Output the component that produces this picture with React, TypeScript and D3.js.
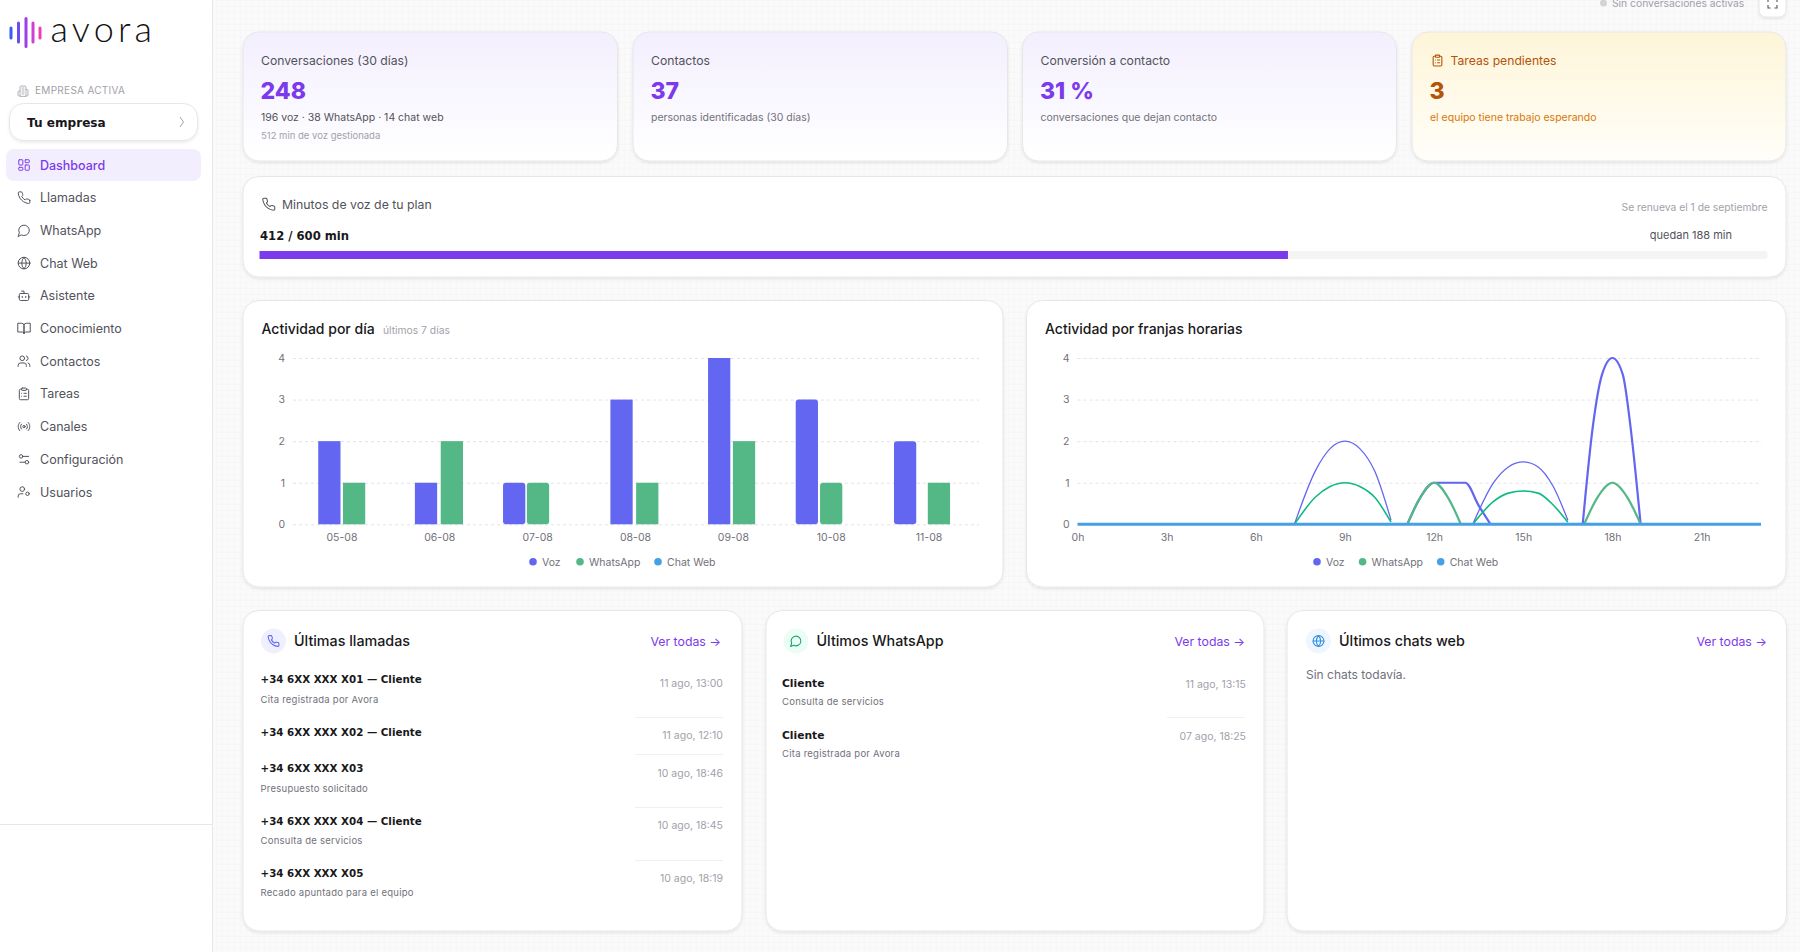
import { useEffect, useRef } from "react";
import * as d3 from "d3";

// ── Data ─────────────────────────────────────────────────────────────────────

const dayLabels = ["05-08", "06-08", "07-08", "08-08", "09-08", "10-08", "11-08"];
const dayVoz = [2, 1, 1, 3, 4, 3, 2];
const dayWhatsApp = [1, 2, 1, 1, 2, 1, 1];
const dayChat = [0, 0, 0, 0, 0, 0, 0];

const hourTicks = [0, 3, 6, 9, 12, 15, 18, 21];
const yTicks = [0, 1, 2, 3, 4];

// franjas horarias: each arch is [hour, value]
const vozArches: [number, number][][] = [
  [[7.3, 0], [8, 1.28], [8.5, 1.82], [9, 2], [9.5, 1.82], [10, 1.28], [10.55, 0.1]],
  [[11.1, 0], [11.5, 0.6], [12, 1], [12.5, 1], [13.05, 1], [13.5, 0.45], [13.9, 0]],
  [[13.3, 0], [14, 1], [14.5, 1.38], [15, 1.5], [15.5, 1.38], [16, 0.92], [16.5, 0.1]],
  [[17, 0], [17.35, 2.4], [17.65, 3.6], [18, 4], [18.35, 3.6], [18.6, 2.4], [18.95, 0]],
];
const whatsAppArches: [number, number][][] = [
  [[7.3, 0], [8, 0.65], [8.5, 0.91], [9, 1], [9.5, 0.91], [10, 0.65], [10.55, 0.05]],
  [[11.1, 0], [11.5, 0.6], [12, 1], [12.5, 0.6], [12.9, 0]],
  [[13.3, 0], [14, 0.55], [14.5, 0.75], [15, 0.8], [15.5, 0.75], [16, 0.47], [16.5, 0.05]],
  [[17.05, 0], [17.5, 0.65], [18, 1], [18.5, 0.65], [18.95, 0]],
];
const chatLine: [number, number][] = [[0, 0], [23, 0]];

const legendNames = ["Voz", "WhatsApp", "Chat Web"];

const navLabels = ["Dashboard", "Llamadas", "WhatsApp", "Chat Web", "Asistente", "Conocimiento", "Contactos", "Tareas", "Canales", "Configuración", "Usuarios"];
const navIcons = ["dash", "phone", "msg", "globe", "bot", "book", "users", "clip", "radio", "sliders", "usercog"];

const planUsed = 412;
const planTotal = 600;
const planBarShare = 0.682;

const callNames = ["+34 6XX XXX X01 — Cliente", "+34 6XX XXX X02 — Cliente", "+34 6XX XXX X03", "+34 6XX XXX X04 — Cliente", "+34 6XX XXX X05"];
const callNotes = ["Cita registrada por Avora", "", "Presupuesto solicitado", "Consulta de servicios", "Recado apuntado para el equipo"];
const callTimes = ["11 ago, 13:00", "11 ago, 12:10", "10 ago, 18:46", "10 ago, 18:45", "10 ago, 18:19"];

const waNames = ["Cliente", "Cliente"];
const waNotes = ["Consulta de servicios", "Cita registrada por Avora"];
const waTimes = ["11 ago, 13:15", "07 ago, 18:25"];

// ── Styling ──────────────────────────────────────────────────────────────────

const INTER = "Inter, sans-serif";
const DEJAVU = "'DejaVu Sans', sans-serif";
const VIOLET = "#7c3aed";
const VOZ = "#6366f1";
const WA_BAR = "#53b786";
const WA_LINE = "#10b981";
const CHAT = "#46a0e6";
const INK = "#18181b";
const MUTED = "#52525b";
const FAINT = "#a1a1aa";

// bars in the reference sit a little off their band centre on some days (px)
const vozNudge = [-0.2, -1.4, -11.1, -1.6, -1.8, -12, -11.6];
const waNudge = [-0.2, -0.3, -12, -0.6, -1.7, -12.4, -2.5];
const vozCorner = [0, 0, 3, 0, 0, 3, 3];
const waCorner = [0, 0, 3, 0, 0, 3, 0];
// the narrow arches come out heavier than the wide ones
const vozArchWidth = [1.3, 2.2, 1.3, 2.2];
const waArchWidth = [1.6, 2.2, 1.6, 2.2];

const ICONS: Record<string, string[]> = {
  dash: ["M4 3h5a1 1 0 0 1 1 1v7a1 1 0 0 1-1 1H4a1 1 0 0 1-1-1V4a1 1 0 0 1 1-1z", "M15 3h5a1 1 0 0 1 1 1v3a1 1 0 0 1-1 1h-5a1 1 0 0 1-1-1V4a1 1 0 0 1 1-1z", "M15 12h5a1 1 0 0 1 1 1v7a1 1 0 0 1-1 1h-5a1 1 0 0 1-1-1v-7a1 1 0 0 1 1-1z", "M4 16h5a1 1 0 0 1 1 1v3a1 1 0 0 1-1 1H4a1 1 0 0 1-1-1v-3a1 1 0 0 1 1-1z"],
  phone: ["M22 16.92v3a2 2 0 0 1-2.18 2 19.79 19.79 0 0 1-8.63-3.07 19.5 19.5 0 0 1-6-6 19.79 19.79 0 0 1-3.07-8.67A2 2 0 0 1 4.11 2h3a2 2 0 0 1 2 1.72 12.84 12.84 0 0 0 .7 2.81 2 2 0 0 1-.45 2.11L8.09 9.91a16 16 0 0 0 6 6l1.27-1.27a2 2 0 0 1 2.11-.45 12.84 12.84 0 0 0 2.81.7A2 2 0 0 1 22 16.92z"],
  msg: ["M7.9 20A9 9 0 1 0 4 16.1L2 22Z"],
  globe: ["M22 12a10 10 0 1 1-20 0 10 10 0 0 1 20 0z", "M12 2a14.5 14.5 0 0 0 0 20 14.5 14.5 0 0 0 0-20", "M2 12h20"],
  bot: ["M12 8V4H8", "M6 8h12a2 2 0 0 1 2 2v8a2 2 0 0 1-2 2H6a2 2 0 0 1-2-2v-8a2 2 0 0 1 2-2z", "M2 14h2", "M20 14h2", "M15 13v2", "M9 13v2"],
  book: ["M2 3h6a4 4 0 0 1 4 4v14a3 3 0 0 0-3-3H2z", "M22 3h-6a4 4 0 0 0-4 4v14a3 3 0 0 1 3-3h7z"],
  users: ["M16 21v-2a4 4 0 0 0-4-4H6a4 4 0 0 0-4 4v2", "M13 7a4 4 0 1 1-8 0 4 4 0 0 1 8 0z", "M22 21v-2a4 4 0 0 0-3-3.87", "M16 3.13a4 4 0 0 1 0 7.75"],
  clip: ["M9 2h6a1 1 0 0 1 1 1v2a1 1 0 0 1-1 1H9a1 1 0 0 1-1-1V3a1 1 0 0 1 1-1z", "M16 4h2a2 2 0 0 1 2 2v14a2 2 0 0 1-2 2H6a2 2 0 0 1-2-2V6a2 2 0 0 1 2-2h2", "M12 11h4", "M12 16h4", "M8 11h.01", "M8 16h.01"],
  radio: ["M4.9 19.1C1 15.2 1 8.8 4.9 4.9", "M7.8 16.2c-2.3-2.3-2.3-6.1 0-8.5", "M14 12a2 2 0 1 1-4 0 2 2 0 0 1 4 0z", "M16.2 7.8c2.3 2.3 2.3 6.1 0 8.5", "M19.1 4.9C23 8.8 23 15.1 19.1 19"],
  sliders: ["M20 7h-9", "M14 17H5", "M20 17a3 3 0 1 1-6 0 3 3 0 0 1 6 0z", "M10 7a3 3 0 1 1-6 0 3 3 0 0 1 6 0z"],
  usercog: ["M10 15H6a4 4 0 0 0-4 4v2", "M13 7a4 4 0 1 1-8 0 4 4 0 0 1 8 0z", "M21 15a3 3 0 1 1-6 0 3 3 0 0 1 6 0z"],
  building: ["M6 22V4a2 2 0 0 1 2-2h8a2 2 0 0 1 2 2v18z", "M6 12H4a2 2 0 0 0-2 2v6a2 2 0 0 0 2 2h2", "M18 9h2a2 2 0 0 1 2 2v9a2 2 0 0 1-2 2h-2", "M10 6h4", "M10 10h4", "M10 14h4", "M10 18h4"],
};

function Icon({ name, x, y, size = 14, color = MUTED, sw = 2 }: { name: string; x: number; y: number; size?: number; color?: string; sw?: number }) {
  return (
    <g transform={`translate(${x},${y}) scale(${size / 24})`} fill="none" stroke={color} strokeWidth={sw} strokeLinecap="round" strokeLinejoin="round">
      {ICONS[name].map((d, i) => <path key={i} d={d} />)}
    </g>
  );
}

function T({ x, y, size, color = INK, weight = 400, font = INTER, anchor = "start", spacing, children }: any) {
  return (
    <text x={x} y={y} fontSize={size} fill={color} fontWeight={weight} fontFamily={font} textAnchor={anchor} letterSpacing={spacing}>
      {children}
    </text>
  );
}

function Card({ x, y, x2, y2, fill = "#fff" }: { x: number; y: number; x2: number; y2: number; fill?: string }) {
  return <rect x={x} y={y} width={x2 - x} height={y2 - y} rx={16} fill={fill} stroke="#e7e7ea" strokeWidth={1} filter="url(#cardShadow)" />;
}

// ── Charts ───────────────────────────────────────────────────────────────────

const CHART_TOP = 358;
const CHART_BOTTOM = 524.3;

function styleAxes(g: d3.Selection<SVGGElement, unknown, null, undefined>, left: number, right: number, bottomAxis: d3.Axis<any>) {
  const y = d3.scaleLinear().domain([0, 4]).range([CHART_BOTTOM, CHART_TOP]);

  g.append("g")
    .attr("transform", `translate(${left},0)`)
    .call(d3.axisLeft(y).tickValues(yTicks).tickSize(-(right - left)).tickPadding(8).tickFormat(d3.format("d")))
    .call((ag) => ag.select(".domain").remove())
    .call((ag) => ag.selectAll(".tick line").attr("stroke", "#e4e4e7").attr("stroke-dasharray", "3,3"))
    .call((ag) => ag.selectAll(".tick text").attr("fill", "#71717a").attr("font-size", 10.5).attr("font-family", INTER));

  g.append("g")
    .attr("transform", `translate(0,${CHART_BOTTOM})`)
    .call(bottomAxis.tickSize(0).tickPadding(9))
    .call((ag) => ag.select(".domain").remove())
    .call((ag) => ag.selectAll(".tick text").attr("fill", "#71717a").attr("font-size", 10.5).attr("font-family", INTER));

  return y;
}

function DayChart() {
  const ref = useRef<SVGGElement>(null);
  useEffect(() => {
    if (!ref.current) return;
    const g = d3.select(ref.current);
    g.selectAll("*").remove();

    const x = d3.scaleBand<string>().domain(dayLabels).range([293, 978]);
    const y = styleAxes(g, 293, 979, d3.axisBottom(x));
    const inner = d3.scaleBand<string>().domain(["Voz", "WhatsApp"]).range([-23.5, 23.5]).paddingInner(0.1);

    const series: [string, number[], string, number[], number[]][] = [
      ["Voz", dayVoz, VOZ, vozNudge, vozCorner],
      ["WhatsApp", dayWhatsApp, WA_BAR, waNudge, waCorner],
    ];
    series.forEach(([name, values, color, nudge, corner]) => {
      g.append("g")
        .selectAll("rect")
        .data(values)
        .join("rect")
        .attr("x", (_, i) => x(dayLabels[i])! + x.bandwidth() / 2 + inner(name)! + nudge[i])
        .attr("width", inner.bandwidth())
        .attr("y", (d) => y(d))
        .attr("height", (d) => CHART_BOTTOM - y(d))
        .attr("rx", (_, i) => corner[i])
        .attr("fill", color);
    });
    // Chat Web has no activity this week, so its bars are zero height
    g.append("g").selectAll("rect").data(dayChat.filter((v) => v > 0)).join("rect").attr("fill", CHAT);
  }, []);
  return <g ref={ref} />;
}

function HourChart() {
  const ref = useRef<SVGGElement>(null);
  useEffect(() => {
    if (!ref.current) return;
    const g = d3.select(ref.current);
    g.selectAll("*").remove();

    const x = d3.scaleLinear().domain([0, 23]).range([1077.5, 1761]);
    const y = styleAxes(g, 1077.5, 1762, d3.axisBottom(x).tickValues(hourTicks).tickFormat((h) => `${h}h`));

    const line = d3.line<[number, number]>()
      .x((d) => x(d[0]))
      .y((d) => y(d[1]))
      .curve(d3.curveMonotoneX);

    vozArches.forEach((a, i) => {
      g.append("path").attr("d", line(a)).attr("fill", "none").attr("stroke", VOZ).attr("stroke-width", vozArchWidth[i]);
    });
    whatsAppArches.forEach((a, i) => {
      g.append("path").attr("d", line(a)).attr("fill", "none").attr("stroke", i % 2 ? WA_BAR : WA_LINE).attr("stroke-width", waArchWidth[i]);
    });
    g.append("path").attr("d", line(chatLine)).attr("fill", "none").attr("stroke", CHAT).attr("stroke-width", 3);
  }, []);
  return <g ref={ref} />;
}

function Legend({ xs }: { xs: number[] }) {
  const colors = [VOZ, WA_BAR, CHAT];
  return (
    <g>
      {legendNames.map((n, i) => (
        <g key={n}>
          <circle cx={xs[i]} cy={561.7} r={3.8} fill={colors[i]} />
          <T x={xs[i] + 9} y={565.5} size={10.5} color="#71717a">{n}</T>
        </g>
      ))}
    </g>
  );
}

// ── Page ─────────────────────────────────────────────────────────────────────

function Kpi({ x, x2, label, value, sub, sub2, textX, grad, labelColor = MUTED, valueColor = VIOLET, subColor = "#71717a" }: any) {
  return (
    <g>
      <Card x={x} y={32} x2={x2} y2={161} fill={`url(#${grad})`} />
      <T x={textX ?? x + 18} y={65} size={12.2} color={labelColor}>{label}</T>
      <T x={x + 17.5} y={99} size={23} weight={800} color={valueColor} style={{ whiteSpace: "pre" }}>{value}</T>
      <T x={x + 18} y={120.5} size={10.5} color={subColor}>{sub}</T>
      {sub2 && <T x={x + 18} y={139} size={9.5} color={FAINT}>{sub2}</T>}
    </g>
  );
}

function PanelHead({ x, x2, title, icon, bg, color }: any) {
  return (
    <g>
      <circle cx={x + 30.5} cy={641} r={12.5} fill={bg} />
      <Icon name={icon} x={x + 24} y={634.5} size={13} color={color} />
      <T x={x + 51} y={646} size={14.3} weight={500}>{title}</T>
      <T x={x2 - 21} y={646} size={12.3} color={VIOLET} anchor="end">Ver todas →</T>
    </g>
  );
}

export default function App() {
  const vozDots = [533, 580, 658];
  const hourDots = [1317, 1362.6, 1440.7];
  const planScale = d3.scaleLinear().domain([0, 1]).range([259.5, 1767.5]);

  const callNameY = [683, 735.7, 772, 824.7, 877];
  const callNoteY = [702.7, 0, 792, 844, 896];
  const callTimeY = [687, 739, 776.7, 829, 882];
  const callSepY = [717, 754, 807, 860];

  return (
    <svg width={1800} height={952} style={{ position: "absolute", left: 0, top: 0, display: "block" }}>
      <defs>
        <pattern id="dots" width={6} height={6} patternUnits="userSpaceOnUse">
          <rect width={6} height={6} fill="#fafafa" />
          <path d="M6 0H0V6" fill="none" stroke="#f5f5f6" strokeWidth={1} />
        </pattern>
        <linearGradient id="lav" x1="0" y1="0" x2="0" y2="1">
          <stop offset="0" stopColor="#f3effe" />
          <stop offset="1" stopColor="#ffffff" />
        </linearGradient>
        <linearGradient id="amber" x1="0" y1="0" x2="0" y2="1">
          <stop offset="0" stopColor="#fef5d8" />
          <stop offset="1" stopColor="#fffef9" />
        </linearGradient>
        <filter id="cardShadow" x="-5%" y="-10%" width="110%" height="120%">
          <feDropShadow dx={0} dy={1.5} stdDeviation={1.6} floodColor="#000" floodOpacity={0.09} />
        </filter>
      </defs>

      <rect width={1800} height={952} fill="url(#dots)" />

      {/* Sidebar */}
      <rect x={0} y={0} width={212} height={952} fill="#fff" />
      <line x1={212.5} x2={212.5} y1={0} y2={952} stroke="#e5e7eb" />
      <line x1={0} x2={212} y1={824.5} y2={824.5} stroke="#e5e7eb" />

      {[[11, 28, 38, "#3b5bf0"], [18.5, 23, 42, "#6a4cf0"], [26, 18.5, 46.5, "#a03fe6"], [33, 23, 42, "#cf3fd0"], [40, 28, 38, "#ec3fb0"]].map(([x, a, b, c], i) => (
        <line key={i} x1={x as number} x2={x as number} y1={a as number} y2={b as number} stroke={c as string} strokeWidth={3} strokeLinecap="round" />
      ))}
      <T x={50.5} y={42} size={36} weight={300} font="Lato, sans-serif" color="#111" spacing={4.2}>avora</T>

      <Icon name="building" x={17} y={85} size={12} color={FAINT} sw={1.6} />
      <T x={35} y={94} size={10} color={FAINT} spacing={0.3}>EMPRESA ACTIVA</T>
      <rect x={9.5} y={103.5} width={188} height={37} rx={14} fill="#fff" stroke="#e5e7eb" filter="url(#cardShadow)" />
      <T x={27} y={126.5} size={12.1} weight={700} font={DEJAVU}>Tu empresa</T>
      <path d="M180 117l3.5 5-3.5 5" fill="none" stroke={FAINT} strokeWidth={1} />

      <rect x={6} y={149} width={195} height={32} rx={8} fill="#f3eefe" />
      {navLabels.map((label, i) => {
        const cy = 165 + i * 32.7;
        const active = i === 0;
        return (
          <g key={label}>
            <Icon name={navIcons[i]} x={17} y={cy - 7} size={14} color={active ? VIOLET : MUTED} sw={1.7} />
            <T x={40} y={cy + 4.5} size={12.5} color={active ? VIOLET : MUTED} weight={active ? 500 : 400}>{label}</T>
          </g>
        );
      })}

      {/* Top strip */}
      <circle cx={1603.5} cy={3} r={3.5} fill="#d4d4d8" />
      <T x={1612} y={7} size={10.3} color={FAINT}>Sin conversaciones activas</T>
      <rect x={1759} y={-10} width={27} height={27} rx={7} fill="#fff" stroke="#e7e7ea" filter="url(#cardShadow)" />
      <path d="M1768 2v-3M1777 2v-3M1768 5v3h2.5M1777 5v3h-2.5" fill="none" stroke="#52525b" strokeWidth={1.1} />

      {/* KPI cards */}
      <Kpi x={243} x2={617.5} grad="lav" label="Conversaciones (30 días)" value="248" sub="196 voz · 38 WhatsApp · 14 chat web" sub2="512 min de voz gestionada" subColor={MUTED} />
      <Kpi x={633} x2={1007.5} grad="lav" label="Contactos" value="37" sub="personas identificadas (30 días)" />
      <Kpi x={1022.5} x2={1396.5} grad="lav" label="Conversión a contacto" value="31 %" sub="conversaciones que dejan contacto" />
      <Kpi x={1412} x2={1786} grad="amber" label="Tareas pendientes" value="3" sub="el equipo tiene trabajo esperando" textX={1450.5} labelColor="#b45309" valueColor="#b45309" subColor="#d97706" />
      <Icon name="clip" x={1431} y={54} size={13} color="#b45309" />

      {/* Plan */}
      <Card x={243} y={176.5} x2={1786} y2={277} />
      <Icon name="phone" x={261.5} y={197} size={14.5} color={MUTED} sw={1.7} />
      <T x={282} y={209} size={12.3} color={MUTED}>Minutos de voz de tu plan</T>
      <T x={1767.5} y={211} size={10.3} color={FAINT} anchor="end">Se renueva el 1 de septiembre</T>
      <T x={260} y={240} size={11.6} weight={700} font={DEJAVU}>{`${planUsed} / ${planTotal} min`}</T>
      <T x={1732} y={239} size={11} color={MUTED} anchor="end">{`quedan ${planTotal - planUsed} min`}</T>
      <rect x={planScale(0)} y={251} width={planScale(1) - planScale(0)} height={8} rx={3} fill="#f4f4f5" />
      <rect x={planScale(0)} y={251} width={planScale(planBarShare) - planScale(0)} height={8} fill={VIOLET} />

      {/* Charts */}
      <Card x={243} y={300.5} x2={1003} y2={587} />
      <T x={261.5} y={334} size={14} weight={500}>Actividad por día</T>
      <T x={383} y={334} size={10.3} color={FAINT}>últimos 7 días</T>
      <DayChart />
      <Legend xs={vozDots} />

      <Card x={1026.5} y={300.5} x2={1786} y2={587} />
      <T x={1045} y={334} size={14} weight={500}>Actividad por franjas horarias</T>
      <HourChart />
      <Legend xs={hourDots} />

      {/* Últimas llamadas */}
      <Card x={243} y={610.5} x2={742} y2={931} />
      <PanelHead x={243} x2={742} title="Últimas llamadas" icon="phone" bg="#eef0ff" color={VOZ} />
      {callNames.map((n, i) => (
        <g key={n}>
          <T x={260.5} y={callNameY[i]} size={10.3} weight={700} font={DEJAVU}>{n}</T>
          {callNotes[i] && <T x={260.5} y={callNoteY[i]} size={9.5} color="#71717a" spacing={0.25}>{callNotes[i]}</T>}
          <T x={723} y={callTimeY[i]} size={10.5} color={FAINT} anchor="end">{callTimes[i]}</T>
        </g>
      ))}
      {callSepY.map((y) => <line key={y} x1={635} x2={723} y1={y + 0.5} y2={y + 0.5} stroke="#f0f0f2" />)}

      {/* Últimos WhatsApp */}
      <Card x={766} y={610.5} x2={1264} y2={931} />
      <PanelHead x={765.5} x2={1266} title="Últimos WhatsApp" icon="msg" bg="#ecfdf5" color="#10a36e" />
      {waNames.map((n, i) => (
        <g key={i}>
          <T x={782} y={687 + i * 52} size={10.7} weight={700} font={DEJAVU}>{n}</T>
          <T x={782} y={704.5 + i * 52.5} size={9.5} color="#71717a" spacing={0.25}>{waNotes[i]}</T>
          <T x={1246} y={687.5 + i * 52} size={10.5} color={FAINT} anchor="end">{waTimes[i]}</T>
        </g>
      ))}
      <line x1={1167} x2={1245} y1={717.5} y2={717.5} stroke="#f0f0f2" />

      {/* Últimos chats web */}
      <Card x={1287} y={610.5} x2={1786.5} y2={931} />
      <PanelHead x={1288} x2={1788} title="Últimos chats web" icon="globe" bg="#eff6ff" color="#2f8fe0" />
      <T x={1306} y={679} size={12} color="#71717a">Sin chats todavía.</T>
    </svg>
  );
}
